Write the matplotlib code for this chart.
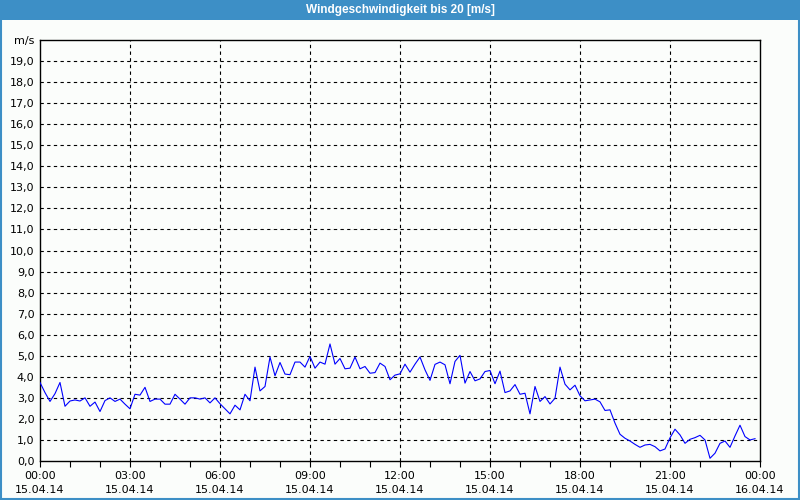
import numpy as np
import matplotlib
matplotlib.use("Agg")
import matplotlib.pyplot as plt
from matplotlib.patches import Rectangle

title = "Windgeschwindigkeit bis 20 [m/s]"
unit = "m/s"

# 10-minute wind speed values, 15.04.14 00:00 .. 23:50
wind = [
    3.73, 3.25, 2.83, 3.2, 3.73, 2.6, 2.85, 2.9, 2.85, 3.0, 2.6, 2.8, 2.35, 2.87, 3.0, 2.83, 2.94, 2.7,
    2.48, 3.17, 3.13, 3.5, 2.83, 2.94, 2.94, 2.7, 2.7, 3.17, 2.94, 2.7, 3.0, 3.0, 2.94, 3.0, 2.76, 3.0,
    2.72, 2.48, 2.24, 2.65, 2.43, 3.17, 2.86, 4.46, 3.33, 3.54, 4.94, 4.05, 4.68, 4.13, 4.1, 4.7, 4.7, 4.46,
    4.97, 4.41, 4.7, 4.6, 5.56, 4.6, 4.87, 4.38, 4.41, 4.94, 4.38, 4.49, 4.17, 4.2, 4.65, 4.49, 3.86, 4.08,
    4.14, 4.6, 4.22, 4.6, 4.94, 4.33, 3.83, 4.59, 4.7, 4.57, 3.67, 4.73, 5.02, 3.7, 4.25, 3.81, 3.9, 4.25,
    4.3, 3.67, 4.27, 3.25, 3.33, 3.63, 3.17, 3.22, 2.24, 3.54, 2.83, 3.06, 2.71, 2.98, 4.46, 3.65, 3.38, 3.6,
    3.1, 2.86, 2.9, 2.94, 2.81, 2.4, 2.43, 1.8, 1.27, 1.08, 0.95, 0.79, 0.65, 0.76, 0.79, 0.68, 0.48, 0.57,
    1.1, 1.51, 1.24, 0.84, 1.03, 1.11, 1.22, 1.0, 0.13, 0.37, 0.84, 0.95, 0.65, 1.19, 1.7, 1.16, 1.0, 1.06,
]
hours = np.arange(len(wind)) / 6.0

tick_hours = [0, 3, 6, 9, 12, 15, 18, 21, 24]
tick_times = ["00:00", "03:00", "06:00", "09:00", "12:00", "15:00", "18:00", "21:00", "00:00"]
tick_dates = ["15.04.14"] * 8 + ["16.04.14"]

y_ticks = list(range(0, 21))
y_labels = [f"{v},0" for v in range(0, 20)] + [unit]

bg = "#FBFDFB"
blue_bar = "#3D8FC6"

fig = plt.figure(figsize=(8, 5), dpi=100, facecolor=bg)
# title bar and window border
fig.patches.append(Rectangle((0, 480 / 500), 1, 20 / 500, transform=fig.transFigure,
                             facecolor=blue_bar, edgecolor="none", zorder=0))
fig.patches.append(Rectangle((0.001, 0.002), 0.998, 0.997, transform=fig.transFigure,
                             facecolor="none", edgecolor=blue_bar, linewidth=1.5, zorder=0))
fig.text(0.5, 490 / 500, title, color="white", fontsize=8.5, fontweight="bold",
         ha="center", va="center", family="Liberation Sans")

ax = fig.add_axes([40 / 800, 39 / 500, 720 / 800, 421 / 500])
ax.set_facecolor(bg)
ax.plot(hours, wind, color="#0000FF", linewidth=0.8, zorder=3)

ax.set_xlim(0, 24)
ax.set_ylim(0, 20)

ax.set_xticks(tick_hours)
ax.set_xticklabels([f"{t}\n{d}" for t, d in zip(tick_times, tick_dates)],
                   fontsize=8, linespacing=1.55)
ax.set_xticks(np.arange(0, 25, 1), minor=True)
ax.tick_params(axis="x", which="both", direction="out", length=4, width=0.8, pad=3, color="black")

ax.set_yticks(y_ticks)
ax.set_yticklabels(y_labels, fontsize=8)
ax.tick_params(axis="y", which="both", length=0, pad=4)

for v in range(1, 20):
    ax.axhline(v, color="black", linewidth=0.8, linestyle=(0, (3, 3)), zorder=1)
for h in tick_hours[1:-1]:
    ax.axvline(h, color="black", linewidth=0.8, linestyle=(0, (3, 3)), zorder=1)

for s in ax.spines.values():
    s.set_color("black")
    s.set_linewidth(1.0)

fig.savefig("out.png", dpi=100, facecolor=bg)
